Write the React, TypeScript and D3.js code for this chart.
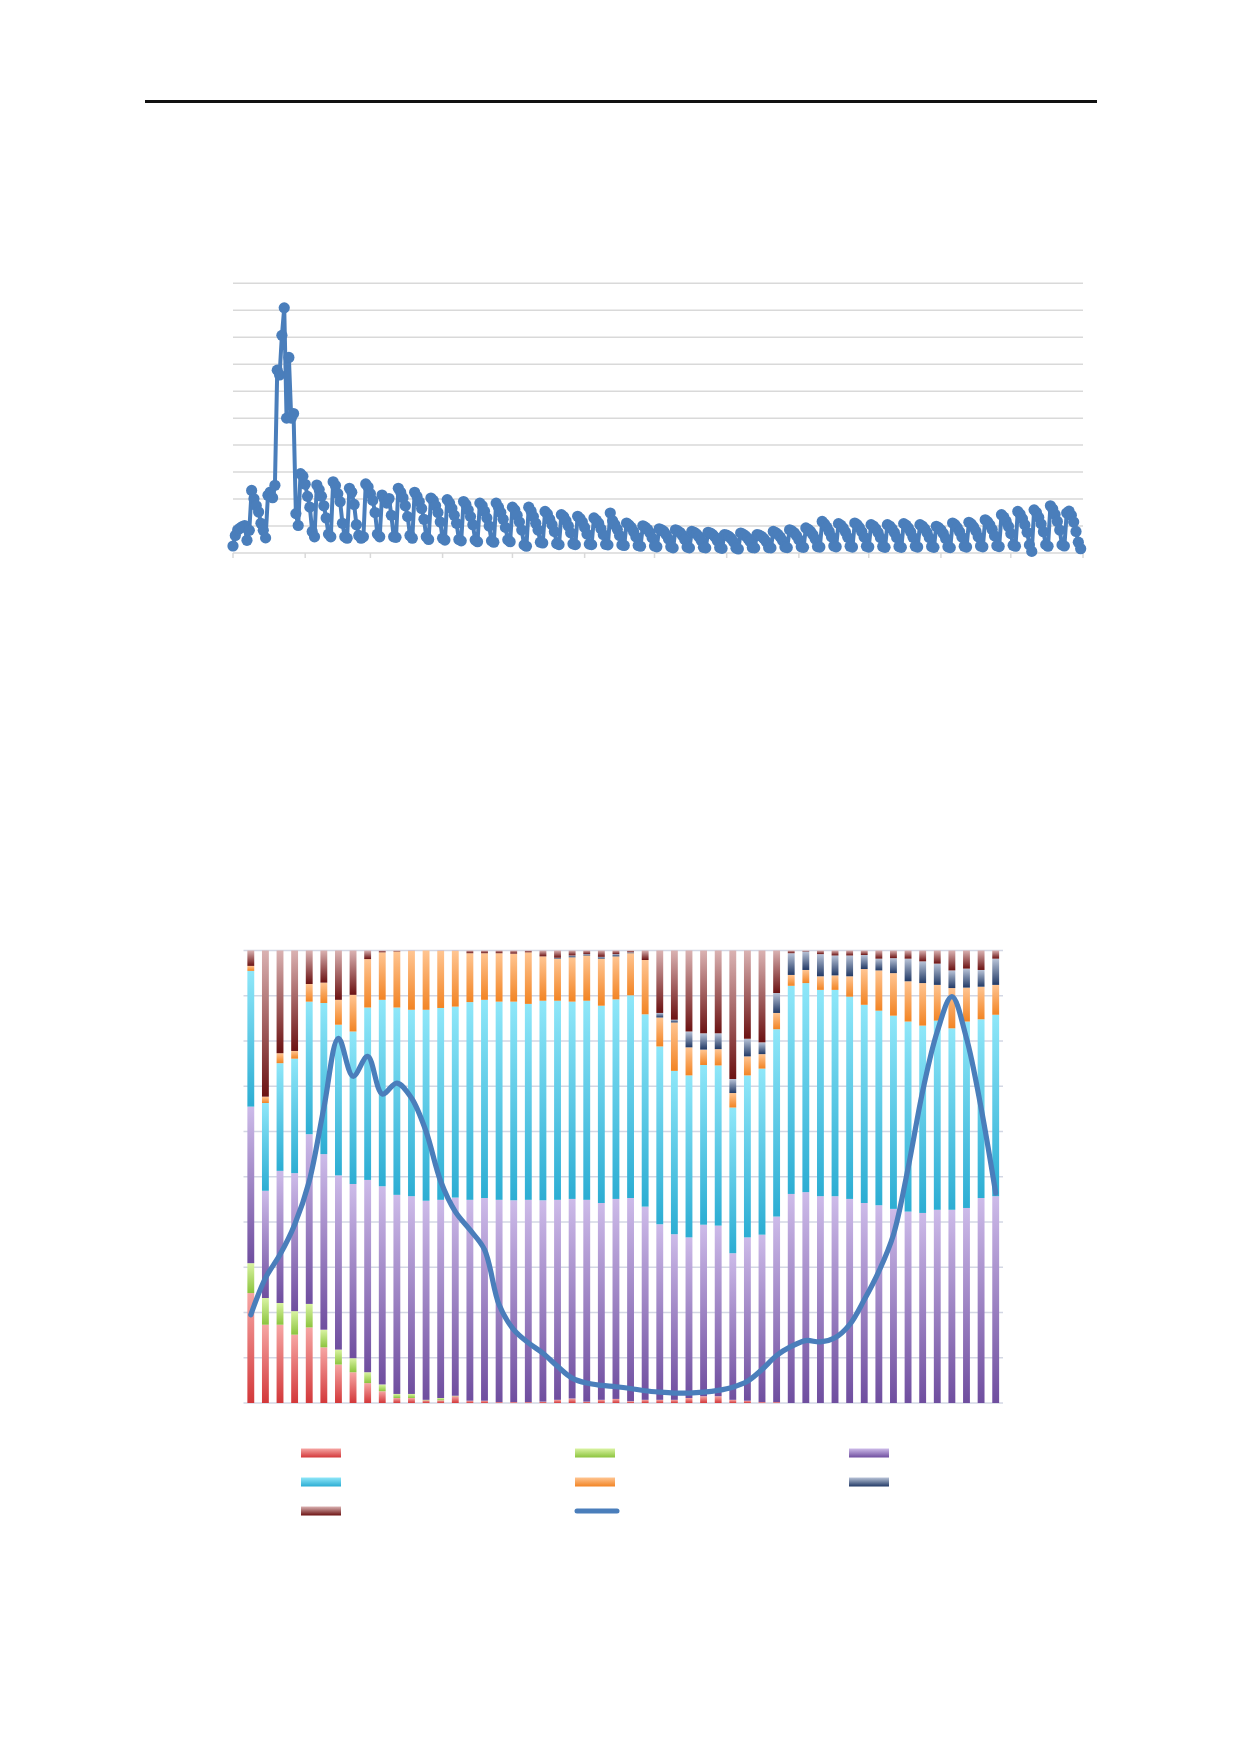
import * as d3 from "d3";
import React from "react";

// ---- top chart: one value per day over a year ----
const yearStart = new Date(Date.UTC(2015, 0, 1));
const yearEnd = new Date(Date.UTC(2016, 0, 1));

const dailyValues: number[] = [
  2.6,
  6.5, 8.5, 9.2, 9.8, 10.2, 4.7, 8.4,
  23.2, 20.1, 17.5, 15.2, 11.0, 8.4, 5.6,
  21.4, 22.6, 20.5, 25.1, 67.8, 66.0, 80.7,
  90.9, 50.0, 72.5, 50.0, 51.7, 14.6, 10.2,
  29.4, 28.5, 25.5, 21.0, 17.0, 8.0, 6.0,
  25.2, 23.5, 21.0, 17.5, 13.0, 7.0, 6.0,
  26.4, 25.0, 22.0, 19.0, 11.0, 6.0, 5.5,
  24.0, 22.5, 18.0, 10.5, 6.5, 5.5, 6.0,
  25.6, 24.5, 22.0, 19.5, 15.0, 7.0, 6.0,
  21.5, 20.0, 18.5, 20.2, 14.0, 6.0, 5.8,
  24.0, 22.5, 20.5, 17.5, 13.5, 6.5, 5.5,
  22.5, 21.0, 19.0, 16.5, 12.5, 6.0, 5.0,
  20.4, 19.5, 17.5, 15.0, 11.5, 5.5, 4.8,
  19.8, 18.5, 16.5, 14.0, 11.0, 5.0, 4.5,
  19.1, 18.0, 16.0, 13.5, 10.5, 4.8, 4.2,
  18.5, 17.5, 15.5, 13.0, 10.0, 4.5, 4.0,
  18.5, 17.0, 15.0, 12.5, 9.5, 4.9, 4.2,
  17.0, 16.0, 14.0, 11.5, 8.5, 3.0, 2.5,
  17.0, 15.5, 13.5, 11.0, 8.5, 4.0, 3.7,
  15.4, 14.5, 12.5, 10.5, 8.0, 3.5, 3.1,
  14.2, 13.5, 12.0, 10.0, 7.5, 3.4, 3.1,
  13.6, 12.8, 11.5, 9.5, 7.0, 3.3, 3.1,
  13.0, 12.2, 11.0, 9.0, 6.8, 3.2, 3.0,
  14.8, 12.0, 10.5, 8.8, 6.5, 3.0, 2.8,
  11.1, 10.4, 9.5, 8.0, 6.0, 2.8, 2.5,
  10.1, 9.6, 8.8, 7.5, 5.6, 2.6, 2.3,
  9.0, 8.6, 8.0, 6.8, 5.2, 2.3, 1.9,
  8.6, 8.2, 7.6, 6.5, 5.0, 2.2, 1.9,
  8.0, 7.7, 7.1, 6.1, 4.7, 2.1, 1.9,
  7.7, 7.4, 6.8, 5.9, 4.5, 2.0, 1.7,
  6.8, 6.6, 6.1, 5.3, 4.1, 1.8, 1.5,
  7.4, 7.0, 6.4, 5.5, 4.3, 2.0, 1.9,
  6.8, 6.6, 6.1, 5.3, 4.2, 2.0, 1.9,
  8.0, 7.6, 6.9, 5.9, 4.6, 2.2, 2.0,
  8.6, 8.2, 7.5, 6.4, 4.9, 2.3, 2.1,
  9.3, 8.8, 8.0, 6.8, 5.2, 2.4, 2.2,
  11.7, 10.8, 9.6, 8.0, 6.0, 2.6, 2.3,
  10.9, 10.3, 9.3, 7.8, 5.8, 2.5, 2.2,
  11.1, 10.5, 9.4, 7.9, 5.9, 2.5, 2.2,
  10.5, 10.0, 9.0, 7.6, 5.7, 2.4, 2.1,
  10.5, 10.0, 9.0, 7.6, 5.7, 2.4, 2.1,
  10.9, 10.3, 9.3, 7.8, 5.8, 2.5, 2.2,
  10.5, 10.0, 9.0, 7.6, 5.7, 2.4, 2.1,
  9.9, 9.4, 8.5, 7.2, 5.4, 2.3, 2.0,
  11.1, 10.5, 9.4, 7.9, 5.9, 2.5, 2.2,
  11.4, 10.8, 9.7, 8.1, 6.0, 2.6, 2.3,
  12.3, 11.6, 10.4, 8.7, 6.4, 2.7, 2.4,
  14.2, 13.3, 11.8, 9.8, 7.2, 2.9, 2.5,
  15.4, 14.4, 12.7, 10.5, 7.7, 3.0, 0.6,
  16.0, 15.0, 13.2, 10.8, 7.9, 3.1, 2.5,
  17.5, 16.3, 14.3, 11.7, 8.5, 3.0, 2.6,
  14.8, 15.5, 14.0, 11.5, 8.0, 4.0, 1.6,
];

const topTicks = [0, 10, 20, 30, 40, 50, 60, 70, 80, 90, 100];

// ---- bottom chart: weekly shares (percent) + one line ----
const weeks = [
  1, 2, 3, 4, 5, 6, 7, 8, 9, 10, 11, 12, 13, 14, 15, 16, 17, 18, 19, 20, 21, 22, 23, 24, 25, 26,
  27, 28, 29, 30, 31, 32, 33, 34, 35, 36, 37, 38, 39, 40, 41, 42, 43, 44, 45, 46, 47, 48, 49, 50, 51, 52,
];

const redShare = [
  24.3, 17.3, 17.3, 15.1, 16.7, 12.3, 8.5, 6.8, 4.4, 2.6, 1.1, 1.1, 0.6, 0.6, 1.5, 0.5, 0.5, 0.2, 0.2, 0.2, 0.3, 0.7, 1.0, 0.3, 0.7, 0.9,
  0.4, 0.7, 0.7, 0.7, 1.1, 1.5, 1.5, 0.7, 0.5, 0.2, 0.2, 0, 0, 0, 0, 0, 0, 0, 0, 0, 0, 0, 0, 0, 0, 0,
];
const greenShare = [
  6.6, 5.9, 4.8, 5.2, 5.2, 3.9, 3.3, 3.1, 2.4, 1.5, 0.9, 0.9, 0.1, 0.5, 0.1, 0, 0, 0, 0, 0, 0, 0, 0, 0, 0, 0,
  0, 0, 0, 0, 0, 0, 0, 0, 0, 0, 0, 0, 0, 0, 0, 0, 0, 0, 0, 0, 0, 0, 0, 0, 0, 0,
];
const purpleShare = [
  34.6, 23.7, 29.2, 30.5, 37.5, 38.8, 38.5, 38.5, 42.5, 43.8, 44.0, 43.7, 44.0, 43.8, 43.8, 44.4, 44.8, 44.7, 44.6, 44.7, 44.5, 44.2, 44.1, 44.6, 43.5, 44.2,
  44.9, 42.7, 38.8, 36.6, 35.5, 37.9, 37.7, 32.4, 36.1, 37.0, 41.0, 46.2, 46.6, 45.7, 45.7, 45.1, 44.2, 43.7, 42.9, 42.3, 42.0, 42.7, 42.7, 43.1, 45.3, 45.7,
];
const cyanShare = [
  30.0, 19.4, 23.8, 25.3, 29.3, 33.4, 33.3, 33.7, 38.1, 41.2, 41.4, 41.2, 42.2, 42.4, 42.2, 43.7, 43.8, 43.8, 43.9, 43.3, 44.1, 44.0, 43.6, 44.0, 43.6, 44.1,
  44.8, 42.5, 39.3, 36.1, 35.8, 35.3, 35.4, 32.2, 35.8, 36.7, 41.4, 46.0, 46.2, 45.6, 45.6, 44.7, 43.8, 43.0, 42.7, 42.0, 41.4, 41.8, 40.1, 41.2, 39.5, 40.1,
];
const orangeShare = [
  1.1, 1.4, 2.2, 1.7, 3.9, 4.5, 5.5, 8.1, 10.7, 10.5, 12.4, 13.0, 13.1, 12.6, 12.3, 10.8, 10.3, 10.7, 10.6, 11.4, 9.8, 9.3, 9.8, 10.0, 10.4, 9.5,
  9.3, 12.0, 6.4, 10.7, 6.2, 3.4, 3.6, 3.2, 4.2, 3.2, 3.6, 2.4, 2.9, 3.0, 3.2, 4.5, 7.9, 8.9, 9.4, 8.9, 9.4, 7.9, 8.9, 7.5, 7.2, 6.6,
];
const navyShare = [
  0, 0, 0, 0, 0, 0, 0, 0, 0, 0, 0, 0, 0, 0, 0, 0, 0, 0, 0, 0, 0, 0.2, 0.4, 0.3, 0.4, 0.5,
  0.2, 0, 1.0, 0.6, 3.5, 3.6, 3.5, 3.1, 3.9, 2.6, 4.4, 4.8, 4.1, 4.9, 4.4, 4.6, 3.1, 2.6, 3.3, 5.0, 4.8, 4.7, 3.9, 4.2, 3.7, 5.8,
];
const maroonShare = [
  3.4, 32.3, 22.7, 22.2, 7.4, 7.1, 10.9, 9.8, 1.9, 0.4, 0.2, 0.1, 0, 0.1, 0.1, 0.6, 0.6, 0.6, 0.7, 0.4, 1.3, 1.6, 1.1, 0.8, 1.4, 0.8,
  0.4, 2.1, 13.8, 15.3, 17.9, 18.3, 18.3, 28.4, 19.5, 20.3, 9.4, 0.6, 0.2, 0.8, 1.1, 1.1, 1.0, 1.8, 1.7, 1.8, 2.4, 2.9, 4.4, 4.0, 4.3, 1.8,
];
const lineValues = [
  19.5, 27.6, 32.8, 39.4, 49.0, 65.2, 80.6, 72.2, 76.6, 68.3, 70.7, 67.4, 60.0, 49.0, 42.3, 38.3, 33.9, 21.7, 16.2, 13.3, 11.0, 8.1, 5.5, 4.4, 3.9, 3.6,
  3.2, 2.7, 2.4, 2.2, 2.2, 2.4, 2.8, 3.5, 4.8, 7.4, 10.5, 12.5, 13.8, 13.5, 14.4, 17.3, 22.8, 29.1, 37.2, 51.9, 68.9, 82.1, 89.8, 80.6, 65.2, 46.4,
];

const shareTicks = [0, 0.1, 0.2, 0.3, 0.4, 0.5, 0.6, 0.7, 0.8, 0.9, 1];

const seriesKeys = ["red", "green", "purple", "cyan", "orange", "navy", "maroon"];
const seriesShares = [redShare, greenShare, purpleShare, cyanShare, orangeShare, navyShare, maroonShare];
// light (top) -> dark (bottom) of every segment
const seriesGradients: Record<string, [string, string]> = {
  red: ["#f6a6a4", "#d3383a"],
  green: ["#d9f3a2", "#8cc43e"],
  purple: ["#cdbbe9", "#6f4e9f"],
  cyan: ["#8fe7f9", "#2cadd3"],
  orange: ["#ffc592", "#f28424"],
  navy: ["#b9c4d8", "#223a66"],
  maroon: ["#dab2b2", "#6c1212"],
};
const lineColor = "#4a7ebb";

export default function App() {
  // top chart scales
  const tx = d3.scaleUtc().domain([yearStart, yearEnd]).range([233, 1083]);
  const ty = d3.scaleLinear().domain([0, 100]).range([553, 283.3]);
  const days = dailyValues.map((v, i) => ({ date: d3.utcDay.offset(yearStart, i), v }));
  const topLine = d3
    .line<{ date: Date; v: number }>()
    .x((d) => tx(d.date))
    .y((d) => ty(d.v));
  const monthTicks = d3.utcMonth.range(yearStart, d3.utcDay.offset(yearEnd, 1));

  // bottom chart scales
  const bx = d3.scaleBand<number>().domain(weeks).range([243.5, 1003]).paddingInner(0.53).paddingOuter(0.265);
  const by = d3.scaleLinear().domain([0, 1]).range([1403, 950.5]);
  const ly = d3.scaleLinear().domain([0, 100]).range([1403, 950.5]);
  const rows = weeks.map((w, i) => {
    const row: Record<string, number> = { week: w };
    seriesKeys.forEach((k, j) => (row[k] = seriesShares[j][i]));
    return row;
  });
  const stacked = d3.stack<Record<string, number>>().keys(seriesKeys).offset(d3.stackOffsetExpand)(rows);
  const bottomLine = d3
    .line<number>()
    .x((_, i) => bx(weeks[i])! + bx.bandwidth() / 2)
    .y((d) => ly(d))
    .curve(d3.curveCatmullRom.alpha(0.5));

  // legend (3 columns, 3 rows)
  const legendX = [301, 575, 849];
  const legendY = [1453, 1482, 1511];

  return (
    <svg width={1240} height={1754} style={{ position: "absolute", left: 0, top: 0, background: "#fff" }}>
      <defs>
        {seriesKeys.map((k) => (
          <linearGradient key={k} id={`grad-${k}`} x1="0" y1="0" x2="0" y2="1">
            <stop offset="0%" stopColor={seriesGradients[k][0]} />
            <stop offset="100%" stopColor={seriesGradients[k][1]} />
          </linearGradient>
        ))}
      </defs>

      {/* page rule */}
      <line x1={145} x2={1097} y1={101.5} y2={101.5} stroke="#111" strokeWidth={3} />

      {/* ---- top chart ---- */}
      <g>
        {topTicks.slice(1).map((t) => (
          <line key={t} x1={233} x2={1083} y1={ty(t)} y2={ty(t)} stroke="#d9d9d9" strokeWidth={1.5} />
        ))}
        <line x1={233} x2={1083} y1={ty(0)} y2={ty(0)} stroke="#d9d9d9" strokeWidth={1.5} />
        {monthTicks.map((m) => (
          <line key={+m} x1={tx(m)} x2={tx(m)} y1={ty(0)} y2={ty(0) + 5} stroke="#d9d9d9" strokeWidth={1.5} />
        ))}
        <path d={topLine(days) ?? ""} fill="none" stroke={lineColor} strokeWidth={4} strokeLinejoin="round" />
        {days.map((d, i) => (
          <circle key={i} cx={tx(d.date)} cy={ty(d.v)} r={5.6} fill={lineColor} />
        ))}
      </g>

      {/* ---- bottom chart ---- */}
      <g>
        {shareTicks.map((t) => (
          <line key={t} x1={243.5} x2={1003} y1={by(t)} y2={by(t)} stroke="#d3d7e4" strokeWidth={1.3} />
        ))}
        {stacked.map((layer) => (
          <g key={layer.key}>
            {layer.map((seg, i) => {
              const h = by(seg[0]) - by(seg[1]);
              if (h <= 0) return null;
              return (
                <rect
                  key={i}
                  x={bx(weeks[i])}
                  y={by(seg[1])}
                  width={bx.bandwidth()}
                  height={h}
                  fill={`url(#grad-${layer.key})`}
                />
              );
            })}
          </g>
        ))}
        <path
          d={bottomLine(lineValues) ?? ""}
          fill="none"
          stroke={lineColor}
          strokeWidth={5.2}
          strokeLinejoin="round"
          strokeLinecap="round"
        />
      </g>

      {/* legend */}
      <g>
        {seriesKeys.map((k, i) => (
          <rect
            key={k}
            x={legendX[i % 3]}
            y={legendY[Math.floor(i / 3)] - 4.5}
            width={40}
            height={9}
            fill={`url(#grad-${k})`}
          />
        ))}
        <line
          x1={legendX[1] + 2}
          x2={legendX[1] + 42}
          y1={legendY[2]}
          y2={legendY[2]}
          stroke={lineColor}
          strokeWidth={5}
          strokeLinecap="round"
        />
      </g>
    </svg>
  );
}
